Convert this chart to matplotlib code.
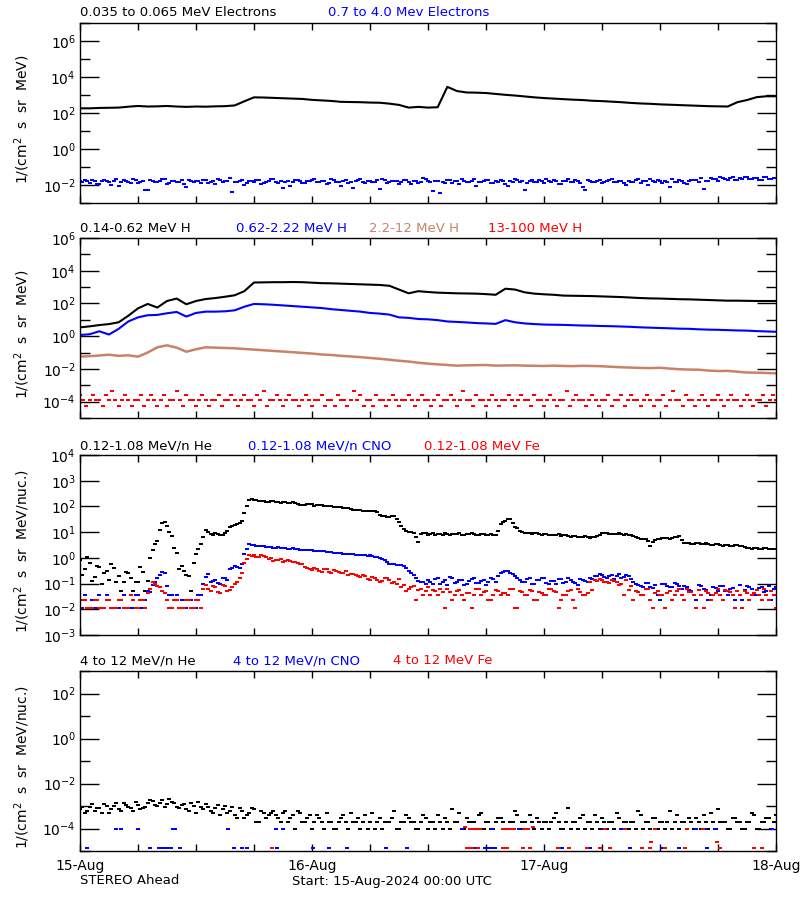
import numpy as np
import matplotlib
matplotlib.use("Agg")
import matplotlib.pyplot as plt
from matplotlib.ticker import FixedLocator, NullFormatter

# ---------------- data (log10 of flux unless noted), time in hours from 15-Aug 00:00
hours = np.arange(0, 73)              # hourly samples
half_hours = np.arange(0, 72.5, 0.5)  # 30-min samples
offset_hours = np.arange(0.25, 72, 0.5)  # 30-min samples, shifted by 15 min
third_hours = np.arange(0, 72.1, 1/3) # 20-min samples

# panel 1 : electrons
e_lo_log = [2.26, 2.26, 2.28, 2.29, 2.30, 2.35, 2.39, 2.36, 2.37, 2.39, 2.36, 2.34, 2.36,
            2.35, 2.37, 2.38, 2.42, 2.65, 2.87, 2.86, 2.84, 2.82, 2.80, 2.78, 2.73, 2.70,
            2.67, 2.62, 2.61, 2.60, 2.58, 2.57, 2.52, 2.45, 2.30, 2.34, 2.30, 2.32, 3.45,
            3.22, 3.14, 3.13, 3.11, 3.06, 3.01, 2.97, 2.92, 2.87, 2.83, 2.80, 2.77, 2.74,
            2.72, 2.68, 2.66, 2.63, 2.60, 2.56, 2.53, 2.51, 2.48, 2.46, 2.44, 2.42, 2.40,
            2.38, 2.37, 2.36, 2.60, 2.72, 2.88, 2.93, 2.93]
e_hi_log = [-1.80, -1.72, -1.88, -1.76, -1.95, -1.70, -1.84, -1.78, -2.05, -1.74, -1.86, -1.66,
            -1.90, -1.80, -2.30, -1.75, -1.82, -1.68, -1.92, -1.78, -1.85, -1.72, -2.10, -1.80, -1.76,
            -1.88, -1.70, -1.83, -1.95, -1.74, -1.80, -1.62, -1.86, -1.78, -2.02, -1.76, -1.84,
            -1.70, -1.90, -1.80, -1.66, -1.87, -2.15, -1.75, -1.82, -1.73, -1.88, -1.79, -1.70,
            -1.84, -1.77, -1.92, -1.68, -1.81, -2.08, -1.74, -1.86, -1.79, -1.64, -1.90, -1.76,
            -1.83, -2.20, -1.72, -1.85, -1.78, -1.95, -1.70, -1.82, -1.76, -1.88, -1.62, -1.80,
            -2.35, -1.78, -1.85, -1.72, -1.90, -1.80, -1.66, -1.84, -1.76, -2.04, -1.82, -1.70,
            -1.88, -1.78, -1.74, -1.92, -1.80, -1.68, -1.86, -2.30, -1.77, -1.83, -1.72, -1.89,
            -1.80, -1.74, -1.95, -1.78, -1.66, -1.85, -1.79, -2.12, -1.72, -1.84, -1.76, -1.90,
            -1.80, -1.68, -1.86, -1.75, -2.00, -1.82, -1.71, -1.88, -1.78, -1.64, -1.85, -1.80,
            -1.76, -2.10, -1.83, -1.72, -1.88, -1.79, -1.70, -1.84, -2.20, -1.77, -1.66, -1.80,
            -1.62, -1.74, -1.58, -1.70, -1.64, -1.55, -1.68, -1.60, -1.72, -1.58, -1.65, -1.60]
e_hi_log_b = [-1.85, -1.78, -1.70, -1.92, -1.80, -1.75, -2.00, -1.68, -1.83, -1.77, -1.90, -1.72,
              -1.81, -2.25, -1.74, -1.86, -1.79, -1.65, -1.88, -1.76, -1.82, -1.95, -1.70, -1.84,
              -1.78, -1.73, -1.90, -1.80, -1.67, -1.85, -1.76, -2.40, -1.82, -1.71, -1.88, -1.79,
              -1.74, -1.93, -1.81, -1.69, -1.86, -1.77, -1.83, -2.05, -1.72, -1.80, -1.89, -1.75,
              -1.68, -1.84, -1.78, -1.91, -1.73, -1.82, -1.76, -1.87, -2.18, -1.70, -1.81, -1.79,
              -1.85, -1.74, -1.66, -1.90, -1.80, -1.77, -1.83, -1.72, -1.96, -1.79, -1.84, -1.69,
              -1.82, -1.76, -2.45, -1.87, -1.71, -1.80, -1.93, -1.75, -1.82, -1.68, -1.86, -1.78,
              -1.73, -1.90, -1.81, -1.76, -2.08, -1.84, -1.70, -1.79, -1.87, -1.74, -1.82, -1.77,
              -1.69, -1.85, -1.80, -1.94, -1.75, -1.83, -1.72, -1.88, -2.25, -1.78, -1.81, -1.74,
              -1.86, -1.70, -1.82, -1.79, -1.91, -1.76, -1.84, -1.68, -1.80, -2.02, -1.77, -1.73,
              -1.88, -1.81, -1.66, -1.84, -1.78, -1.92, -1.74, -1.70, -1.60, -1.75, -1.62, -1.68,
              -1.57, -1.66, -1.59, -1.72, -1.63, -1.56, -1.67, -1.61, -1.70, -1.58, -1.64, -1.62]

# panel 2 : protons
h1_log = [0.54, 0.60, 0.68, 0.74, 0.85, 1.25, 1.70, 1.97, 1.75, 2.15, 2.30, 1.95, 2.15,
          2.27, 2.33, 2.41, 2.50, 2.75, 3.28, 3.29, 3.30, 3.30, 3.31, 3.30, 3.27, 3.24,
          3.23, 3.21, 3.19, 3.17, 3.15, 3.13, 3.08, 2.85, 2.62, 2.75, 2.70, 2.66, 2.64,
          2.62, 2.61, 2.60, 2.57, 2.53, 2.90, 2.85, 2.68, 2.60, 2.56, 2.53, 2.48, 2.47,
          2.46, 2.45, 2.43, 2.41, 2.39, 2.36, 2.33, 2.31, 2.30, 2.28, 2.26, 2.25, 2.23,
          2.21, 2.19, 2.17, 2.17, 2.16, 2.15, 2.15, 2.15]
h2_log = [0.07, 0.12, 0.30, 0.10, 0.45, 0.90, 1.15, 1.28, 1.30, 1.40, 1.48, 1.20, 1.42,
          1.50, 1.50, 1.52, 1.58, 1.80, 1.97, 1.95, 1.92, 1.88, 1.84, 1.80, 1.76, 1.72,
          1.65, 1.60, 1.55, 1.50, 1.42, 1.38, 1.32, 1.15, 1.12, 1.05, 1.03, 0.98, 0.90,
          0.87, 0.84, 0.80, 0.78, 0.75, 0.98, 0.85, 0.78, 0.74, 0.71, 0.70, 0.69, 0.67,
          0.65, 0.64, 0.62, 0.61, 0.59, 0.57, 0.54, 0.52, 0.50, 0.48, 0.46, 0.45, 0.42,
          0.40, 0.39, 0.37, 0.35, 0.34, 0.31, 0.29, 0.27]
h3_log = [-1.25, -1.22, -1.18, -1.13, -1.20, -1.17, -1.25, -1.00, -0.68, -0.56, -0.70, -0.95,
          -0.80, -0.68, -0.70, -0.72, -0.74, -0.78, -0.82, -0.86, -0.90, -0.94, -0.98, -1.02,
          -1.06, -1.12, -1.15, -1.20, -1.24, -1.28, -1.33, -1.38, -1.44, -1.50, -1.55, -1.62,
          -1.68, -1.72, -1.76, -1.80, -1.78, -1.77, -1.76, -1.80, -1.79, -1.78, -1.80, -1.81,
          -1.82, -1.80, -1.82, -1.83, -1.81, -1.82, -1.84, -1.87, -1.90, -1.92, -1.94, -1.95,
          -1.93, -1.98, -2.02, -2.04, -2.05, -2.10, -2.13, -2.12, -2.17, -2.22, -2.23, -2.25, -2.27]
# 13-100 MeV H : count level index every 20 min (0 = no point)
h4_levels = [0.0, 5.6e-5, 1.2e-4, 2.5e-4, 4.2e-4]
h4_code = [3, 2, 1, 2, 3, 2, 2, 1, 3, 2, 4, 2, 1, 2, 3, 2, 1, 2, 2, 3, 1, 2, 3, 2, 1,
           2, 3, 1, 2, 2, 4, 2, 1, 3, 2, 2, 1, 2, 3, 2, 1, 2, 2, 3, 1, 2, 2, 3, 2,
           1, 2, 3, 2, 2, 1, 3, 2, 4, 1, 2, 2, 3, 2, 1, 2, 3, 2, 2, 1, 2, 3, 2, 1,
           2, 2, 3, 1, 2, 2, 1, 3, 2, 2, 1, 2, 4, 2, 3, 1, 2, 2, 1, 3, 2, 2, 1, 2,
           3, 2, 1, 2, 2, 3, 2, 1, 2, 3, 2, 2, 1, 2, 3, 1, 2, 2, 3, 2, 1, 2, 4, 2,
           2, 1, 3, 2, 2, 1, 2, 3, 2, 1, 2, 2, 3, 2, 1, 2, 3, 2, 2, 1, 3, 2, 2, 1,
           2, 3, 2, 1, 2, 2, 4, 1, 2, 3, 2, 2, 1, 2, 3, 2, 1, 2, 2, 3, 1, 2, 2, 3,
           1, 2, 3, 2, 2, 1, 2, 3, 2, 1, 2, 2, 3, 1, 2, 4, 2, 2, 1, 3, 2, 2, 1, 2,
           3, 2, 1, 2, 2, 3, 2, 1, 2, 3, 2, 2, 1, 2, 3, 2, 1, 2, 2, 3, 1, 2, 3, 2]

# panel 3 : 0.12-1.08 MeV/n heavy ions, every 30 min (+ second reading 15 min later)
he_log = [-0.10, -0.45, -0.20, -0.75, -0.35, -0.60, -0.85, -0.40, -0.70, -0.95, -0.60, -1.28,
          -0.95, -0.55, -0.90, 0.30, 0.65, 1.35, 1.25, 0.85, 0.20, -0.30, -0.65, -1.28,
          0.15, 0.55, 1.10, 0.92, 0.95, 0.90, 0.98, 1.20, 1.28, 1.35, 1.75, 2.25, 2.26,
          2.20, 2.21, 2.19, 2.20, 2.17, 2.18, 2.13, 2.16, 2.08, 2.05, 2.10, 2.08, 2.04,
          2.05, 2.02, 2.01, 1.98, 1.96, 1.95, 1.90, 1.86, 1.85, 1.84, 1.83, 1.82, 1.65,
          1.62, 1.60, 1.63, 1.40, 1.12, 1.02, 0.95, 0.60, 0.98, 0.90, 0.95, 0.92, 0.88,
          0.94, 0.91, 0.93, 0.89, 0.92, 0.95, 0.90, 0.92, 0.88, 0.93, 0.90, 1.30, 1.45,
          1.50, 1.20, 1.05, 0.98, 0.95, 0.96, 0.92, 0.93, 0.90, 0.88, 0.91, 0.87, 0.85,
          0.84, 0.82, 0.83, 0.80, 0.82, 0.84, 0.98, 0.95, 0.93, 0.94, 0.91, 0.92, 0.88,
          0.80, 0.74, 0.72, 0.47, 0.70, 0.75, 0.78, 0.74, 0.80, 0.85, 0.58, 0.56, 0.55,
          0.57, 0.53, 0.55, 0.50, 0.52, 0.48, 0.50, 0.47, 0.49, 0.45, 0.38, 0.36, 0.40,
          0.35, 0.37, 0.33, 0.36]
he_log_b = [-0.65, 0.05, -0.90, -0.30, -1.00, -0.50, -0.25, -0.95, -1.28, -0.55, -0.80, -0.95,
            -0.35, -1.28,
            0.00, 0.55, 1.10, 1.40,
            1.00, 0.40, -0.45, -0.50, -0.70, -0.20, 0.35, 0.80,
            1.00, 0.90, 0.94, 0.88, 1.05, 1.25, 1.30, 1.45,
            2.00, 2.28, 2.24, 2.22, 2.18, 2.20, 2.19, 2.15, 2.17, 2.12, 2.14, 2.06, 2.07,
            2.09, 2.03, 2.06, 2.00, 2.02, 1.97, 1.96, 1.95, 1.93, 1.88, 1.85, 1.84, 1.83,
            1.82, 1.80, 1.64, 1.60, 1.62, 1.50, 1.25, 1.05, 1.00, 0.80, 0.92, 0.95,
            0.93, 0.90, 0.91, 0.95, 0.89, 0.92, 0.96, 0.90, 0.94, 0.91, 0.89, 0.93, 0.90,
            0.87, 1.05, 1.40, 1.52, 1.35, 1.15, 1.00, 0.96, 0.93, 0.95, 0.90, 0.92, 0.89,
            0.90, 0.86, 0.88, 0.83, 0.85, 0.81, 0.84, 0.79, 0.83, 0.90, 0.97, 0.94, 0.92,
            0.95, 0.90, 0.89, 0.84, 0.77, 0.73, 0.65, 0.60, 0.72, 0.77, 0.76, 0.79, 0.83,
            0.70, 0.57, 0.55, 0.58, 0.54, 0.56, 0.51, 0.53, 0.49, 0.51, 0.46, 0.50, 0.47,
            0.42, 0.37, 0.39, 0.34, 0.37, 0.35, 0.34]
cno_log = [-1.95, -1.46, -1.95, -1.95, -1.46, -1.95, -1.65, -1.95, -1.95, -1.46, -1.95, -1.95,
           -1.46, -1.95, -1.30,
           -1.05, -0.80, -0.55, -1.10, -1.46, -1.46, -1.65, -1.95, -1.65, -1.95, -1.46, -0.75,
           -0.95, -0.85, -1.00, -0.80, -0.45, -0.30, -0.40, 0.15, 0.52, 0.50, 0.47, 0.45,
           0.43, 0.40, 0.41, 0.38, 0.36, 0.38, 0.34, 0.30, 0.31, 0.29, 0.27, 0.28, 0.24,
           0.22, 0.18, 0.17, 0.15, 0.16, 0.13, 0.12, 0.10, 0.11, 0.05, -0.02, -0.08, -0.22,
           -0.25, -0.28, -0.30, -0.50, -0.65, -0.90, -0.95,
           -0.85, -1.00, -0.80, -0.95, -1.05, -0.78, -0.92, -0.88, -1.02, -0.82, -0.96, -0.90,
           -1.04, -0.80, -0.93,
           -0.60, -0.52, -0.58, -0.70,
           -0.85, -0.95, -0.80, -1.00, -0.88, -0.78, -1.02, -0.90, -0.84, -0.98, -0.80, -0.93,
           -1.04, -0.86, -0.92, -0.82,
           -0.70, -0.65, -0.78, -0.68, -0.72, -0.80, -0.66, -0.84,
           -1.00, -1.10, -0.97, -1.15, -1.05, -1.65, -1.02, -1.12, -0.98, -1.08,
           -1.10, -1.25, -1.46, -1.05, -1.20, -1.65, -1.12, -1.28, -1.08, -1.46, -1.18, -1.30,
           -1.65, -1.10, -1.22, -1.46, -1.15, -1.27, -1.65, -1.12]
cno_log_b = [-1.95, -1.95, -1.65, -1.95, -1.95, -1.46, -1.95, -1.95, -1.65, -1.95, -1.95, -1.46,
             -1.95, -1.65,
             -1.32, -0.95, -0.65, -0.60,
             -1.46, -1.65, -1.95, -1.95, -1.65, -1.95, -1.46, -1.00,
             -0.62, -0.90, -0.98, -0.78, -0.88, -0.40, -0.35, -0.25,
             0.35, 0.50, 0.48, 0.46, 0.44, 0.42, 0.39, 0.40, 0.37, 0.36, 0.35, 0.32, 0.30,
             0.30, 0.28, 0.26, 0.25, 0.21, 0.20, 0.17, 0.16, 0.14, 0.14, 0.12, 0.11, 0.08,
             0.09, 0.02, -0.05, -0.15, -0.24, -0.27, -0.29, -0.40, -0.58, -0.78, -0.92, -1.00,
             -0.95, -0.82, -1.02, -0.88, -0.76, -0.98, -0.85, -1.04, -0.91, -0.79, -0.97, -0.86,
             -0.94, -0.81, -0.70, -0.55, -0.50, -0.62, -0.80, -0.92, -0.83, -1.01, -0.87, -0.79,
             -0.96, -0.89, -1.03, -0.81, -0.94, -0.86, -0.99, -0.84, -0.91, -0.77, -0.72, -0.62,
             -0.75, -0.69, -0.82, -0.64, -0.76, -0.70, -0.95, -1.05, -1.12, -0.99, -1.18, -1.46,
             -1.03, -1.09, -1.14, -1.01, -1.22, -1.15, -1.30, -1.65, -1.08, -1.24, -1.46, -1.16,
             -1.10, -1.28, -1.20, -1.65, -1.06, -1.26, -1.14, -1.46, -1.19, -1.32, -1.11, -1.22]
fe_log = [-1.95, -1.65, -1.95, -1.65, -1.95, -1.95, -1.65, -1.95, -1.65, -1.95, -1.95, -1.65,
          -1.95, -1.65, -1.35,
          -0.95, -1.10, -1.30, -1.65, -1.95, -1.65, -1.95, -1.65, -1.95, -1.65, -1.95,
          -1.05, -1.30, -1.15, -1.35, -1.10, -1.25, -1.00, -0.80,
          -0.20, 0.10, 0.12, 0.05, 0.08,
          -0.05, -0.12, -0.10, -0.18, -0.08, -0.15, -0.20, -0.22,
          -0.40, -0.48, -0.42, -0.55, -0.45, -0.60, -0.50, -0.58, -0.52, -0.62,
          -0.65, -0.75, -0.70, -0.85, -0.78, -0.92, -0.80, -0.88, -0.95, -0.82,
          -1.05, -1.20, -1.10, -1.25, -1.46, -1.15,
          -1.25, -1.46, -1.32, -1.20, -1.65, -1.28, -1.46, -1.35, -1.95, -1.22, -1.46, -1.30,
          -1.65, -1.25, -1.46, -1.36, -1.20, -1.95, -1.30, -1.46, -1.24, -1.65, -1.33, -1.46,
          -1.20, -1.28, -1.95, -1.46, -1.30, -1.65, -1.22, -1.46, -1.35, -1.26,
          -0.90, -0.85, -0.95, -0.88, -0.92, -1.00, -0.86, -1.10,
          -1.30, -1.46, -1.22, -1.65, -1.35, -1.46, -1.95, -1.28, -1.46, -1.20, -1.65, -1.32,
          -1.46, -1.25, -1.95, -1.36, -1.46, -1.22, -1.65, -1.30, -1.46, -1.28, -1.95, -1.35,
          -1.46, -1.24, -1.65, -1.46, -1.30, -1.95]
fe_log_b = [-1.65, -1.95, -1.95, -1.65, -1.95, -1.65, -1.95, -1.95, -1.65, -1.95, -1.46, -1.95,
            -1.65, -1.95,
            -1.20, -1.00, -1.15, -1.35,
            -1.95, -1.65, -1.95, -1.95, -1.65, -1.95, -1.65, -1.20,
            -1.20, -1.10, -1.32, -1.05, -1.28, -1.15, -0.95, -0.60,
            -0.05, 0.08, 0.05, 0.10, 0.02, -0.02, -0.10, -0.06, -0.14, -0.12, -0.18, -0.25,
            -0.35, -0.45, -0.38, -0.50, -0.44, -0.56, -0.48, -0.55, -0.60, -0.68, -0.62, -0.72,
            -0.66, -0.82, -0.74, -0.86, -0.90, -0.78, -0.98, -1.00, -1.12, -1.28, -1.15, -1.65,
            -1.22, -1.30,
            -1.46, -1.30, -1.22, -1.95, -1.34, -1.46, -1.26, -1.65, -1.38, -1.46, -1.21, -1.32,
            -1.65, -1.46, -1.27, -1.35, -1.46, -1.23, -1.95, -1.31, -1.46, -1.29, -1.65, -1.37,
            -1.46, -1.21, -1.34, -1.65, -1.46, -1.25, -1.95, -1.33, -1.46, -0.95, -0.88, -0.82,
            -0.92, -0.97, -0.90, -1.05, -1.46, -1.26, -1.65, -1.34, -1.46, -1.23, -1.95, -1.30,
            -1.46, -1.38, -1.65, -1.27, -1.46, -1.21, -1.33, -1.95, -1.46, -1.29, -1.65, -1.36,
            -1.46, -1.24, -1.31, -1.95, -1.46, -1.27, -1.65, -1.35, -1.46, -1.22, -1.65, -1.46]

# panel 4 : 4-12 MeV/n heavy ions (He in units of 1e-4)
he4_x1e4 = [7, 5, 9, 6, 8, 12, 5, 10, 7, 14, 9, 6, 11, 8,
            13, 16, 10, 19, 12, 15, 9,
            11, 7, 14, 5, 9, 12, 6, 8, 4, 10,
            6, 4, 8, 3, 5, 7, 2, 5, 4, 6,
            3, 5, 2, 4, 6, 2, 3, 1, 4, 2, 5,
            2, 1, 3, 2, 5, 2, 1, 4, 2, 1, 3, 2, 2, 6, 1, 2, 3, 2, 1, 4,
            1, 2, 4, 1, 2, 7, 2, 1, 3, 2, 1, 5, 2, 1, 2, 3, 1, 2, 6, 1,
            2, 4, 1, 2, 2, 1, 3, 2, 1, 8, 2, 1, 4, 2, 1, 2, 3, 1, 2, 5,
            1, 2, 2, 1, 4, 2, 1, 3, 2, 1, 6, 2, 1, 2, 3, 1, 2, 4, 1, 2,
            7, 2, 1, 3, 2, 1, 2, 5, 1, 2, 3, 1, 4]
he4_x1e4_b = [9, 6, 12, 8, 5, 10, 7, 13, 6, 11, 8, 15, 7, 9,
              18, 11, 14, 9, 20, 13,
              8, 12, 6, 10, 15, 7, 9, 5, 11, 7,
              5, 9, 3, 6, 4, 8, 2, 6, 3, 5,
              4, 2, 6, 3, 1, 5, 2, 4, 2, 3, 1, 2,
              1, 2, 4, 1, 2, 3, 2, 1, 5, 2, 1, 2, 3, 1, 2, 4, 2, 1, 2, 3,
              2, 1, 2, 3, 1, 2, 5, 1, 2, 2, 4, 1, 2, 1, 3, 2, 1, 2, 4, 2,
              1, 2, 3, 1, 2, 2, 5, 1, 2, 1, 2, 3, 1, 2, 4, 1, 2, 2, 1, 3,
              2, 1, 2, 6, 1, 2, 3, 1, 2, 2, 1, 4, 2, 1, 2, 3, 1, 2, 5, 1,
              2, 2, 1, 3, 2, 1, 2, 4, 1, 2, 3, 2]
cno4_t = [3.7, 4.2, 6.0, 9.6, 9.8, 15.3, 20.3, 21.0, 39.5, 42.6, 45.4, 54.1, 56.0, 63.7,
          64.7, 65.7, 71.6,
          0.7, 7.2, 8.2, 8.6, 9.0, 9.4, 10.3, 15.9, 16.8, 17.3, 20.4, 24.1, 25.8, 27.6,
          31.7, 33.8, 40.7, 41.1, 41.9, 42.3, 42.6, 42.9, 49.4, 49.9, 52.8, 56.9, 60.2,
          62.0, 64.9]
cno4_v = [1e-4, 1e-4, 1e-4, 1e-4, 1e-4, 1e-4, 1e-4, 1e-4, 1e-4, 1e-4, 1e-4, 1e-4, 1e-4,
          1e-4, 1e-4, 1e-4, 1e-4,
          1.3e-5, 1.3e-5, 1.3e-5, 1.3e-5, 1.3e-5, 1.3e-5, 1.3e-5, 1.3e-5, 1.3e-5, 1.3e-5,
          1.3e-5, 1.3e-5, 1.3e-5, 1.3e-5, 1.3e-5, 1.3e-5, 1.3e-5, 1.3e-5, 1.3e-5, 1.3e-5,
          1.3e-5, 1.3e-5, 1.3e-5, 1.3e-5, 1.3e-5, 1.3e-5, 1.3e-5, 1.3e-5, 1.3e-5]
fe4_t = [39.8, 40.3, 40.6, 41.0, 41.4, 43.8, 44.2, 44.6, 44.9, 45.9, 46.3, 46.9, 54.3,
         56.4, 59.5, 62.8, 64.4,
         19.9, 40.0, 40.4, 40.5, 41.2, 43.8, 44.2, 45.8, 46.5, 49.4, 50.6, 52.4, 53.8,
         54.8, 58.1, 59.0, 60.5, 62.6, 66.2, 69.7, 70.5,
         59.1, 65.9]
fe4_v = [1.2e-4, 1e-4, 1e-4, 1e-4, 1e-4, 1e-4, 1e-4, 1e-4, 1e-4, 1e-4, 1e-4, 1.2e-4, 1e-4,
         1e-4, 1e-4, 1e-4, 1e-4,
         1.3e-5, 1.3e-5, 1.3e-5, 1.3e-5, 1.3e-5, 1.3e-5, 1.3e-5, 1.3e-5, 1.3e-5, 1.3e-5,
         1.3e-5, 1.3e-5, 1.3e-5, 1.3e-5, 1.3e-5, 1.3e-5, 1.3e-5, 1.3e-5, 1.3e-5, 1.3e-5,
         1.3e-5, 2.6e-5, 2.6e-5]

day_labels = ["15-Aug", "16-Aug", "17-Aug", "18-Aug"]

BLUE = "#0000ff"
RED = "#ff0000"
BROWN = "#c8826a"
FS = 9.5

fig = plt.figure(figsize=(8, 9), dpi=100)


def px_axes(top, bottom):
    return fig.add_axes([80 / 800, 1 - bottom / 900, 696 / 800, (bottom - top) / 900])


def style(ax, lo, hi, majors, minors):
    ax.set_yscale("log")
    ax.set_ylim(10.0 ** lo, 10.0 ** hi)
    ax.set_xlim(0, 72)
    ax.yaxis.set_major_locator(FixedLocator([10.0 ** m for m in majors]))
    ax.yaxis.set_minor_locator(FixedLocator([10.0 ** m for m in minors]))
    ax.yaxis.set_minor_formatter(NullFormatter())
    ax.set_yticklabels([r"$10^{%d}$" % m for m in majors], fontsize=10)
    ax.set_xticks([0, 24, 48, 72])
    ax.set_xticks(np.arange(0, 73, 6), minor=True)
    ax.set_xticklabels([])
    ax.tick_params(axis="y", which="major", direction="in", length=14, width=1,
                   right=True, pad=3)
    ax.tick_params(axis="y", which="minor", direction="in", length=7, width=1, right=True)
    ax.tick_params(axis="x", which="both", direction="in", length=5, width=1, top=True)
    for s in ax.spines.values():
        s.set_linewidth(1)


def titles(y, items):
    for x, txt, col in items:
        fig.text(x / 800, 1 - y / 900, txt, color=col, fontsize=FS, va="center", ha="left")


def ylab(yc, txt):
    fig.text(22 / 800, 1 - yc / 900, txt, rotation=90, ha="center", va="center", fontsize=10)


# small flat rectangles, like the plotted pixels of the original
rect = [(-1, -0.55), (1, -0.55), (1, 0.55), (-1, 0.55), (-1, -0.55)]
dot = dict(linestyle="none", marker=rect, markersize=3.2, markeredgewidth=0)

# ---- panel 1
ax1 = px_axes(23, 203)
style(ax1, -3, 7, [-2, 0, 2, 4, 6], [-3, -1, 1, 3, 5, 7])
ax1.plot(hours, 10.0 ** np.array(e_lo_log), color="k", lw=1.5)
ax1.plot(half_hours, 10.0 ** np.array(e_hi_log), color=BLUE, **dot)
ax1.plot(offset_hours, 10.0 ** np.array(e_hi_log_b), color=BLUE, **dot)
titles(13, [(80, "0.035 to 0.065 MeV Electrons", "k"), (328, "0.7 to 4.0 Mev Electrons", BLUE)])
ylab(119, r"1/(cm$^2$  s  sr  MeV)")

# ---- panel 2
ax2 = px_axes(238, 418)
style(ax2, -5, 6, [-4, -2, 0, 2, 4, 6], [-5, -3, -1, 1, 3, 5])
ax2.plot(hours, 10.0 ** np.array(h1_log), color="k", lw=1.5)
ax2.plot(hours, 10.0 ** np.array(h2_log), color=BLUE, lw=1.5)
ax2.plot(hours, 10.0 ** np.array(h3_log), color=BROWN, lw=1.8)
h4 = np.array([h4_levels[c] for c in h4_code])
ax2.plot(third_hours[h4 > 0], h4[h4 > 0], color=RED, **dot)
titles(229, [(80, "0.14-0.62 MeV H", "k"), (236, "0.62-2.22 MeV H", BLUE),
             (369, "2.2-12 MeV H", BROWN), (488, "13-100 MeV H", RED)])
ylab(334, r"1/(cm$^2$  s  sr  MeV)")

# ---- panel 3
ax3 = px_axes(455, 635)
style(ax3, -3, 4, [-3, -2, -1, 0, 1, 2, 3, 4], [])
ax3.plot(half_hours, 10.0 ** np.array(he_log), color="k", **dot)
ax3.plot(offset_hours, 10.0 ** np.array(he_log_b), color="k", **dot)
ax3.plot(half_hours, 10.0 ** np.array(cno_log), color=BLUE, **dot)
ax3.plot(offset_hours, 10.0 ** np.array(cno_log_b), color=BLUE, **dot)
ax3.plot(half_hours, 10.0 ** np.array(fe_log), color=RED, **dot)
ax3.plot(offset_hours, 10.0 ** np.array(fe_log_b), color=RED, **dot)
titles(446, [(80, "0.12-1.08 MeV/n He", "k"), (248, "0.12-1.08 MeV/n CNO", BLUE),
             (424, "0.12-1.08 MeV Fe", RED)])
ylab(551, r"1/(cm$^2$  s  sr  MeV/nuc.)")

# ---- panel 4
ax4 = px_axes(671, 851)
style(ax4, -5, 3, [-4, -2, 0, 2], [-5, -3, -1, 1, 3])
ax4.plot(half_hours, np.array(he4_x1e4) * 1e-4, color="k", **dot)
ax4.plot(offset_hours, np.array(he4_x1e4_b) * 1e-4, color="k", **dot)
ax4.plot(cno4_t, cno4_v, color=BLUE, **dot)
ax4.plot(fe4_t, fe4_v, color=RED, **dot)
titles(661, [(80, "4 to 12 MeV/n He", "k"), (233, "4 to 12 MeV/n CNO", BLUE),
             (393, "4 to 12 MeV Fe", RED)])
ylab(767, r"1/(cm$^2$  s  sr  MeV/nuc.)")
ax4.set_xticklabels(day_labels, fontsize=10)
ax4.tick_params(axis="x", which="major", pad=6)

fig.text(80 / 800, 1 - 881 / 900, "STEREO Ahead", fontsize=FS, va="center")
fig.text(292 / 800, 1 - 881 / 900, "Start: 15-Aug-2024 00:00 UTC", fontsize=FS, va="center")

fig.savefig("out.png", dpi=100)
